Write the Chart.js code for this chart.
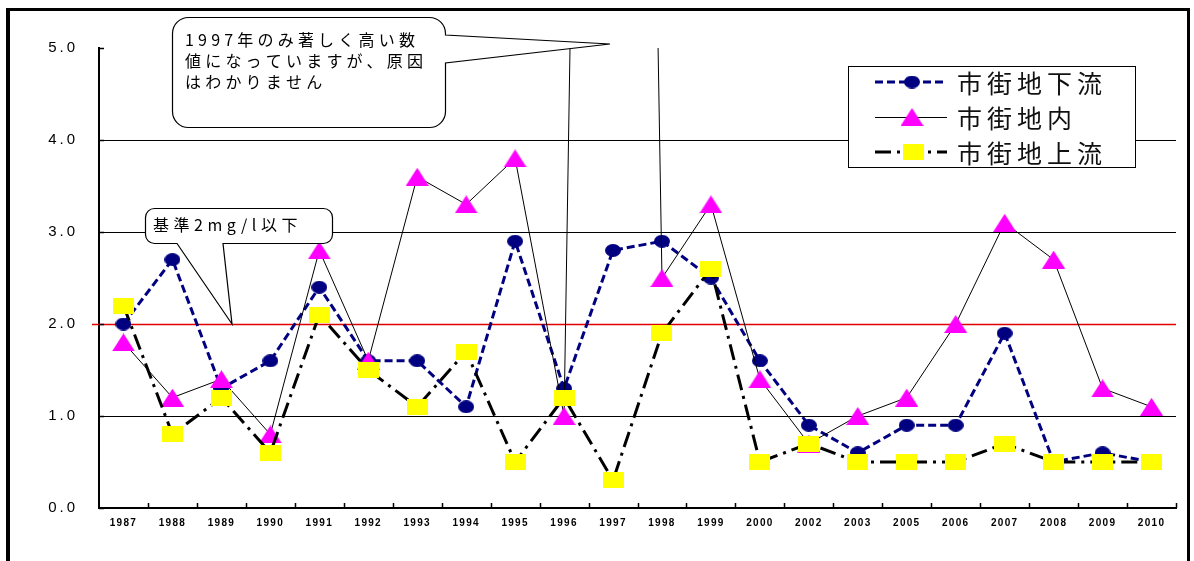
<!DOCTYPE html>
<html lang="ja">
<head>
<meta charset="utf-8">
<title>BOD 経年変化</title>
<script src="https://cdn.jsdelivr.net/npm/chart.js@4.4.1/dist/chart.umd.min.js"></script>
<style>
  html, body { margin: 0; padding: 0; background: #fff; }
  canvas { display: block; }
</style>
</head>
<body>
<canvas id="c" width="1194" height="561"></canvas>
<script>
// ---- data -------------------------------------------------------------
const years = ['1987','1988','1989','1990','1991','1992','1993','1994','1995','1996','1997',
               '1998','1999','2000','2002','2003','2005','2006','2007','2008','2009','2010'];
const downstream = [2.0, 2.7, 1.3, 1.6, 2.4, 1.6, 1.6, 1.1, 2.9, 1.3, 2.8,
                    2.9, 2.5, 1.6, 0.9, 0.6, 0.9, 0.9, 1.9, 0.5, 0.6, 0.5];
const urban      = [1.8, 1.2, 1.4, 0.8, 2.8, 1.6, 3.6, 3.3, 3.8, 1.0, 34,
                    2.5, 3.3, 1.4, 0.7, 1.0, 1.2, 2.0, 3.1, 2.7, 1.3, 1.1];
const upstream   = [2.2, 0.8, 1.2, 0.6, 2.1, 1.5, 1.1, 1.7, 0.5, 1.2, 0.3,
                    1.9, 2.6, 0.5, 0.7, 0.5, 0.5, 0.5, 0.7, 0.5, 0.5, 0.5];
const yTickLabels = ['0.0', '1.0', '2.0', '3.0', '4.0', '5.0'];
const seriesNames = ['市街地下流', '市街地内', '市街地上流'];
const standardValue = 2.0;
const standardNote = '基準2mg/l以下';
const noteLines = ['1997年のみ著しく高い数', '値になっていますが、原因', 'はわかりません'];
const noteYearIndex = 10;

// ---- styles -----------------------------------------------------------
const NAVY = '#000080', MAGENTA = '#ff00ff', YELLOW = '#ffff00';
const JP_FONT = '"Noto Sans CJK JP", "Noto Sans", sans-serif';
const DASH_DOWN = [8, 4];
const DASH_UP = [16, 6, 3, 6];

function marker(w, h, paint) {
  const c = document.createElement('canvas');
  c.width = w; c.height = h;
  paint(c.getContext('2d'), w, h);
  return c;
}
const circleMark = marker(16, 13, (g, w, h) => {
  g.fillStyle = NAVY; g.beginPath();
  g.ellipse(w / 2, h / 2, w / 2, h / 2, 0, 0, Math.PI * 2); g.fill();
});
const triangleMark = marker(23, 18, (g, w, h) => {
  g.fillStyle = MAGENTA; g.beginPath();
  g.moveTo(w / 2, 0); g.lineTo(w, h); g.lineTo(0, h); g.closePath(); g.fill();
});
const squareMark = marker(21, 16, (g, w, h) => { g.fillStyle = YELLOW; g.fillRect(0, 0, w, h); });

// ---- helpers ----------------------------------------------------------
function bubblePath(ctx, x0, y0, x1, y1, r, tail) {
  ctx.beginPath();
  ctx.moveTo(x0 + r, y0);
  ctx.lineTo(x1 - r, y0);
  ctx.arcTo(x1, y0, x1, y0 + r, r);
  if (tail.side === 'right') {
    ctx.lineTo(x1, tail.a);
    ctx.lineTo(tail.tx, tail.ty);
    ctx.lineTo(x1, tail.b);
  }
  ctx.lineTo(x1, y1 - r);
  ctx.arcTo(x1, y1, x1 - r, y1, r);
  if (tail.side === 'bottom') {
    ctx.lineTo(tail.b, y1);
    ctx.lineTo(tail.tx, tail.ty);
    ctx.lineTo(tail.a, y1);
  }
  ctx.lineTo(x0 + r, y1);
  ctx.arcTo(x0, y1, x0, y1 - r, r);
  ctx.lineTo(x0, y0 + r);
  ctx.arcTo(x0, y0, x0 + r, y0, r);
  ctx.closePath();
}

// spaced-out axis labels
const labelSpacing = { x: '1.3px', y: '3px' };
const spacedLabels = {
  id: 'spacedLabels',
  beforeDraw(chart) {
    Object.values(chart.scales).forEach(scale => {
      if (scale._spaced) return;
      const orig = scale.drawLabels.bind(scale);
      scale.drawLabels = function (area) {
        const ctx = this.ctx;
        ctx.save();
        ctx.letterSpacing = labelSpacing[this.id] || '0px';
        orig(area);
        ctx.restore();
      };
      scale._spaced = true;
    });
  }
};

// standard line at 2.0 and inward tick marks
const axisExtras = {
  id: 'axisExtras',
  beforeDatasetsDraw(chart) {
    const { ctx, chartArea: a, scales: { x, y } } = chart;
    ctx.save();
    const ys = Math.round(y.getPixelForValue(standardValue)) + 0.5;
    ctx.strokeStyle = '#e00000';
    ctx.lineWidth = 1.3;
    ctx.beginPath(); ctx.moveTo(a.left - 7, ys); ctx.lineTo(a.right, ys); ctx.stroke();

    ctx.strokeStyle = '#000';
    ctx.lineWidth = 1.5;
    ctx.beginPath();
    const step = (a.right - a.left) / years.length;
    for (let i = 1; i <= years.length; i++) {
      const px = Math.round(x.getPixelForValue(i - 1) + step / 2) + 0.5;
      ctx.moveTo(px, a.bottom); ctx.lineTo(px, a.bottom - 5);
    }
    y.ticks.forEach(t => {
      const py = Math.round(y.getPixelForValue(t.value)) + 0.5;
      ctx.moveTo(a.left, py); ctx.lineTo(a.left + 5, py);
    });
    ctx.stroke();
    ctx.restore();
  }
};

// legend, callouts and outer frame
const overlay = {
  id: 'overlay',
  afterDraw(chart) {
    const { ctx, chartArea: a, scales: { x, y } } = chart;
    ctx.save();

    // legend
    const lx0 = 848.5, ly0 = 66.5, lw = 287, lh = 101;
    ctx.fillStyle = '#fff';
    ctx.fillRect(lx0, ly0, lw, lh);
    ctx.strokeStyle = '#000'; ctx.lineWidth = 1;
    ctx.strokeRect(lx0, ly0, lw, lh);
    const rows = [82, 117, 152];
    const s0 = 875, s1 = 947, mx = 912;
    // 市街地下流
    ctx.strokeStyle = NAVY; ctx.lineWidth = 3; ctx.setLineDash(DASH_DOWN);
    ctx.beginPath(); ctx.moveTo(s0, rows[0]); ctx.lineTo(s1, rows[0]); ctx.stroke();
    ctx.drawImage(circleMark, mx - circleMark.width / 2, rows[0] - circleMark.height / 2);
    // 市街地内
    ctx.strokeStyle = '#000'; ctx.lineWidth = 1; ctx.setLineDash([]);
    ctx.beginPath(); ctx.moveTo(s0, rows[1] + 0.5); ctx.lineTo(s1, rows[1] + 0.5); ctx.stroke();
    ctx.drawImage(triangleMark, mx - triangleMark.width / 2, rows[1] - triangleMark.height / 2);
    // 市街地上流
    ctx.lineWidth = 3; ctx.setLineDash(DASH_UP);
    ctx.beginPath(); ctx.moveTo(s0, rows[2]); ctx.lineTo(s1, rows[2]); ctx.stroke();
    ctx.setLineDash([]);
    ctx.drawImage(squareMark, mx + 1 - squareMark.width / 2, rows[2] - squareMark.height / 2);

    ctx.fillStyle = '#111';
    ctx.font = '25px ' + JP_FONT;
    ctx.letterSpacing = '5px';
    ctx.textBaseline = 'middle';
    ctx.textAlign = 'left';
    seriesNames.forEach((n, i) => ctx.fillText(n, 957, rows[i] + 1));

    // note about 1997
    const tipX = x.getPixelForValue(noteYearIndex) - 3;
    bubblePath(ctx, 172.5, 17.5, 445.5, 127.5, 16,
      { side: 'right', a: 35, b: 63, tx: tipX, ty: a.top - 4 });
    ctx.fillStyle = '#fff'; ctx.fill();
    ctx.strokeStyle = '#000'; ctx.lineWidth = 1.2; ctx.stroke();
    ctx.fillStyle = '#000';
    ctx.font = '16px ' + JP_FONT;
    ctx.letterSpacing = '4.2px';
    noteLines.forEach((t, i) => ctx.fillText(t, 185, 40 + i * 21));

    // standard value note
    bubblePath(ctx, 145.5, 208.5, 332.5, 243.5, 9,
      { side: 'bottom', a: 177, b: 223, tx: 232, ty: y.getPixelForValue(standardValue) });
    ctx.fillStyle = '#fff'; ctx.fill();
    ctx.strokeStyle = '#000'; ctx.lineWidth = 1.2; ctx.stroke();
    ctx.fillStyle = '#000';
    ctx.font = '16px ' + JP_FONT;
    ctx.letterSpacing = '4.5px';
    ctx.fillText(standardNote, 153, 225);

    // outer frame
    ctx.letterSpacing = '0px';
    ctx.fillStyle = '#000';
    ctx.fillRect(6, 8, 4, 553);
    ctx.fillRect(6, 8, 1184, 3);
    ctx.fillRect(1187, 8, 3, 553);
    ctx.restore();
  }
};

new Chart(document.getElementById('c'), {
  type: 'line',
  data: {
    labels: years,
    datasets: [
      {
        label: seriesNames[0], data: downstream, order: 3,
        borderColor: NAVY, borderWidth: 3, borderDash: DASH_DOWN,
        pointStyle: circleMark, pointRadius: 7, tension: 0, fill: false
      },
      {
        label: seriesNames[1], data: urban, order: 2,
        borderColor: '#000', borderWidth: 1,
        pointStyle: triangleMark, pointRadius: 10, tension: 0, fill: false
      },
      {
        label: seriesNames[2], data: upstream, order: 1,
        borderColor: '#000', borderWidth: 3, borderDash: DASH_UP,
        pointStyle: squareMark, pointRadius: 9, tension: 0, fill: false
      }
    ]
  },
  options: {
    responsive: false,
    animation: false,
    events: [],
    layout: { padding: { left: 0, right: 18, top: 48, bottom: 0 } },
    plugins: { legend: { display: false }, tooltip: { enabled: false } },
    scales: {
      x: {
        offset: true,
        afterFit: s => { s.height = 53; },
        grid: { display: true, drawOnChartArea: false, drawTicks: false },
        border: { display: true, color: '#000', width: 2 },
        ticks: {
          color: '#000', padding: 9, maxRotation: 0, autoSkip: false,
          font: { family: '"Liberation Sans", Arial, sans-serif', size: 10, weight: 'bold' }
        }
      },
      y: {
        min: 0, max: 5,
        afterFit: s => { s.width = 99; },
        grid: {
          drawTicks: false, lineWidth: 1,
          color: c => (c.tick && [1, 3, 4].includes(c.tick.value)) ? '#000' : 'rgba(0,0,0,0)'
        },
        border: { display: true, color: '#000', width: 2 },
        ticks: {
          stepSize: 1, padding: 21, color: '#000',
          font: { family: '"Liberation Sans", Arial, sans-serif', size: 15 },
          callback: (v) => yTickLabels[Math.round(v)]
        }
      }
    }
  },
  plugins: [spacedLabels, axisExtras, overlay]
});
</script>
</body>
</html>
